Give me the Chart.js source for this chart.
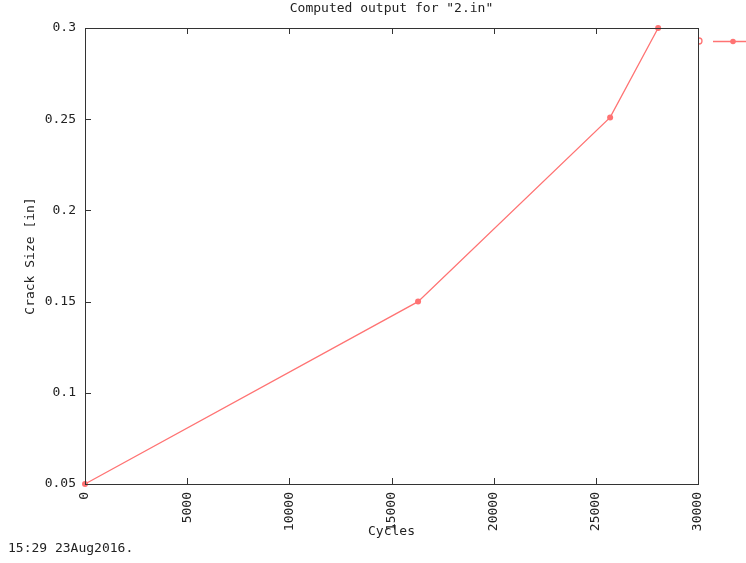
<!DOCTYPE html>
<html>
<head>
<meta charset="utf-8">
<script src="https://cdn.jsdelivr.net/npm/chart.js@4/dist/chart.umd.min.js"></script>
<style>
  html, body { margin: 0; padding: 0; background: #fff; }
</style>
</head>
<body>
<canvas id="crackChart" width="746" height="563"></canvas>
<script>
const cycles = [0, 16300, 25700, 28050];
const crack_size = [0.05, 0.15, 0.251, 0.3];
const x_ticks = [0, 5000, 10000, 15000, 20000, 25000, 30000];
const y_ticks = [0.05, 0.1, 0.15, 0.2, 0.25, 0.3];
const chart_title = 'Computed output for "2.in"';
const x_title = "Cycles";
const y_title = "Crack Size [in]";
const stamp = "15:29 23Aug2016.";

const mono = "'DejaVu Sans Mono', monospace";
const ink = "#333";
const red = "rgb(255,115,115)";

// border box, inward tick marks, title, timestamp and the clipped key
const gnuplotBits = {
  id: "gnuplotBits",
  afterDatasetsDraw(chart) {
    const ctx = chart.ctx;
    const a = chart.chartArea;
    const xs = chart.scales.x, ys = chart.scales.y;
    ctx.save();
    ctx.strokeStyle = ink;
    ctx.lineWidth = 1;
    ctx.strokeRect(Math.round(a.left) + 0.5, Math.round(a.top) + 0.5,
                   Math.round(a.right - a.left), Math.round(a.bottom - a.top));
    ctx.beginPath();
    x_ticks.forEach(v => {
      let px = Math.round(xs.getPixelForValue(v)) + 0.5;
      ctx.moveTo(px, a.bottom); ctx.lineTo(px, a.bottom - 6);
      ctx.moveTo(px, a.top); ctx.lineTo(px, a.top + 6);
    });
    y_ticks.forEach(v => {
      let py = Math.round(ys.getPixelForValue(v)) + 0.5;
      ctx.moveTo(a.left, py); ctx.lineTo(a.left + 6, py);
    });
    ctx.stroke();

    ctx.fillStyle = "#222";
    ctx.font = "13px " + mono;
    ctx.textBaseline = "middle";
    ctx.textAlign = "center";
    ctx.fillText(chart_title, (a.left + a.right) / 2, 9);
    ctx.textAlign = "left";
    ctx.fillText(stamp, 8, 549);

    // key sample, cut off at the right edge
    let ky = 41;
    ctx.strokeStyle = red;
    ctx.fillStyle = red;
    ctx.lineWidth = 1.3;
    ctx.beginPath();
    ctx.arc(a.right + 1, ky, 3, -Math.PI / 2, Math.PI / 2);
    ctx.stroke();
    ctx.beginPath();
    ctx.moveTo(a.right + 15, ky + 0.5); ctx.lineTo(746, ky + 0.5);
    ctx.stroke();
    ctx.beginPath();
    ctx.arc(a.right + 35, ky + 0.5, 2.8, 0, Math.PI * 2);
    ctx.fill();
    ctx.restore();
  }
};

const data = {
  datasets: [{
    label: "2.out",
    data: cycles.map((c, i) => ({x: c, y: crack_size[i]})),
    showLine: true,
    borderColor: red,
    backgroundColor: red,
    borderWidth: 1.3,
    pointRadius: 3,
    pointBackgroundColor: red,
    pointBorderWidth: 0,
    clip: false
  }]
};

const config = {
  type: "scatter",
  data: data,
  options: {
    responsive: false,
    animation: false,
    devicePixelRatio: 1,
    layout: { padding: { top: 28, right: 48, bottom: 0, left: 0 } },
    plugins: {
      legend: { display: false },
      title: { display: false },
      tooltip: { enabled: false }
    },
    scales: {
      x: {
        type: "linear",
        min: 0, max: 30000,
        afterBuildTicks(scale) { scale.ticks = x_ticks.map(v => ({value: v})); },
        afterFit(scale) { scale.height = 79; },
        grid: { display: false, drawTicks: false },
        border: { display: false },
        ticks: {
          color: "#222",
          font: { family: mono, size: 13 },
          minRotation: 90, maxRotation: 90,
          padding: 8,
          callback: v => String(v)
        },
        title: {
          display: true, text: x_title, color: "#222",
          font: { family: mono, size: 13 },
          padding: { top: 0, bottom: 24 }
        }
      },
      y: {
        type: "linear",
        min: 0.05, max: 0.3,
        afterBuildTicks(scale) { scale.ticks = y_ticks.map(v => ({value: v})); },
        afterFit(scale) { scale.width = 85; },
        grid: { display: false, drawTicks: false },
        border: { display: false },
        ticks: {
          color: "#222",
          font: { family: mono, size: 13 },
          padding: 9,
          callback: v => String(Number(v.toFixed(2)))
        },
        title: {
          display: true, text: y_title, color: "#222",
          font: { family: mono, size: 13 },
          padding: { top: 23, bottom: 0 }
        }
      }
    }
  },
  plugins: [gnuplotBits]
};

let crackChart = new Chart(document.getElementById("crackChart"), config);
</script>
</body>
</html>
